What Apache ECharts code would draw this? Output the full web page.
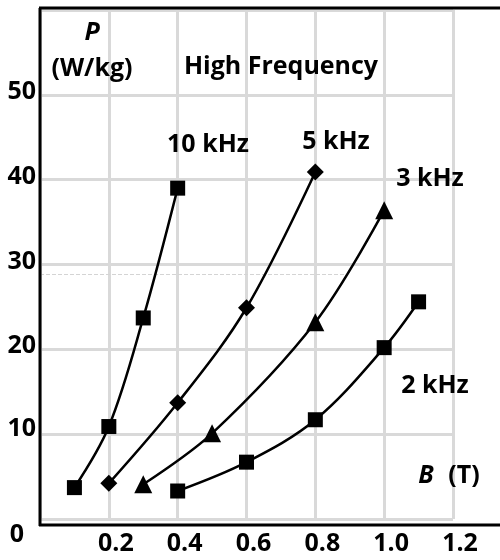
<!DOCTYPE html>
<html>
<head>
<meta charset="utf-8">
<script src="https://cdn.jsdelivr.net/npm/echarts@6/dist/echarts.min.js"></script>
<style>
  html, body { margin: 0; padding: 0; background: #fff; }
  #chart { width: 500px; height: 560px; }
</style>
</head>
<body>
<div id="chart"></div>
<script>
// data: [B (T), P (W/kg)]
const f10k = [[0.1, 3.7], [0.2, 10.9], [0.3, 23.7], [0.4, 39.0]];
const f5k = [[0.2, 4.2], [0.4, 13.7], [0.6, 24.9], [0.8, 40.9]];
const f3k = [[0.3, 4.1], [0.5, 10.1], [0.8, 23.2], [1.0, 36.4]];
const f2k = [[0.4, 3.3], [0.6, 6.7], [0.8, 11.7], [1.0, 20.2], [1.1, 25.6]];
const yTicks = [0, 10, 20, 30, 40, 50];
const xTicks = [0.2, 0.4, 0.6, 0.8, 1.0, 1.2];

const FONT = "Open Sans";
const FS = 25;
const chart = echarts.init(document.getElementById("chart"));

const lineSeries = (name, data, symbol, size) => ({
  name: name,
  type: "line",
  data: data,
  smooth: 0.35,
  symbol: symbol,
  symbolSize: size,
  lineStyle: { color: "#000", width: 2.5 },
  itemStyle: { color: "#000" },
  z: 5
});

const label = (text, x, y, extra) => ({
  type: "text",
  x: x, y: y, z: 100,
  style: Object.assign({
    text: text,
    font: "bold " + FS + "px " + FONT,
    fill: "#000",
    align: "center",
    verticalAlign: "middle"
  }, extra || {})
});

chart.setOption({
  animation: false,
  grid: { left: 40, right: 47, top: 10, bottom: 41 },
  xAxis: {
    type: "value",
    min: 0, max: 1.2, interval: 0.2,
    axisLine: { show: false },
    axisTick: { show: false },
    splitLine: { lineStyle: { color: "#d9d9d9", width: 3 } },
    axisLabel: {
      margin: 12,
      fontFamily: FONT, fontWeight: "bold", fontSize: FS, color: "#000",
      padding: [0, 0, 0, 14],
      formatter: v => xTicks.some(t => Math.abs(t - v) < 1e-6) ? v.toFixed(1) : ""
    }
  },
  yAxis: {
    type: "value",
    min: 0, max: 60, interval: 10,
    axisLine: { show: false },
    axisTick: { show: false },
    splitLine: { lineStyle: { color: "#d9d9d9", width: 3 } },
    axisLabel: {
      margin: 4,
      fontFamily: FONT, fontWeight: "bold", fontSize: FS, color: "#000",
      formatter: v => {
        if (!yTicks.includes(v)) return "";
        if (v === 0) return "{z|0}";
        if (v === 10) return "{t|10}";
        return "{n|" + v + "}";
      },
      rich: {
        n: { fontFamily: FONT, fontWeight: "bold", fontSize: FS, padding: [0, 0, 6, 0] },
        z: { fontFamily: FONT, fontWeight: "bold", fontSize: FS, padding: [32, 12, 0, 0] },
        t: { fontFamily: FONT, fontWeight: "bold", fontSize: FS, padding: [0, 0, 10, 0] }
      }
    }
  },
  series: [
    lineSeries("10 kHz", f10k, "rect", 15),
    lineSeries("5 kHz", f5k, "diamond", 17),
    lineSeries("3 kHz", f3k, "triangle", 18),
    lineSeries("2 kHz", f2k, "rect", 15),
    {
      type: "line",
      data: [],
      markLine: {
        silent: true,
        symbol: "none",
        label: { show: false },
        lineStyle: { color: "#d4d4d4", type: "dashed", width: 1 },
        data: [[{ coord: [0, 28.8] }, { coord: [0.89, 28.8] }]]
      }
    }
  ],
  graphic: [
    { type: "line", z: 90, shape: { x1: 40, y1: 8, x2: 40, y2: 526 }, style: { stroke: "#000", lineWidth: 3 } },
    { type: "line", z: 90, shape: { x1: 39, y1: 8, x2: 500, y2: 8 }, style: { stroke: "#000", lineWidth: 3 } },
    { type: "line", z: 90, shape: { x1: 39, y1: 525, x2: 500, y2: 525 }, style: { stroke: "#000", lineWidth: 3 } },
    label("P", 92, 33, { font: "italic bold " + FS + "px " + FONT }),
    label("(W/kg)", 92, 69),
    label("High Frequency", 281, 67),
    label("10 kHz", 208, 145),
    label("5 kHz", 336, 142),
    label("3 kHz", 430, 179),
    label("2 kHz", 435, 386),
    label("B", 426, 476, { font: "italic bold " + FS + "px " + FONT }),
    label("(T)", 464, 476)
  ]
});
</script>
</body>
</html>
